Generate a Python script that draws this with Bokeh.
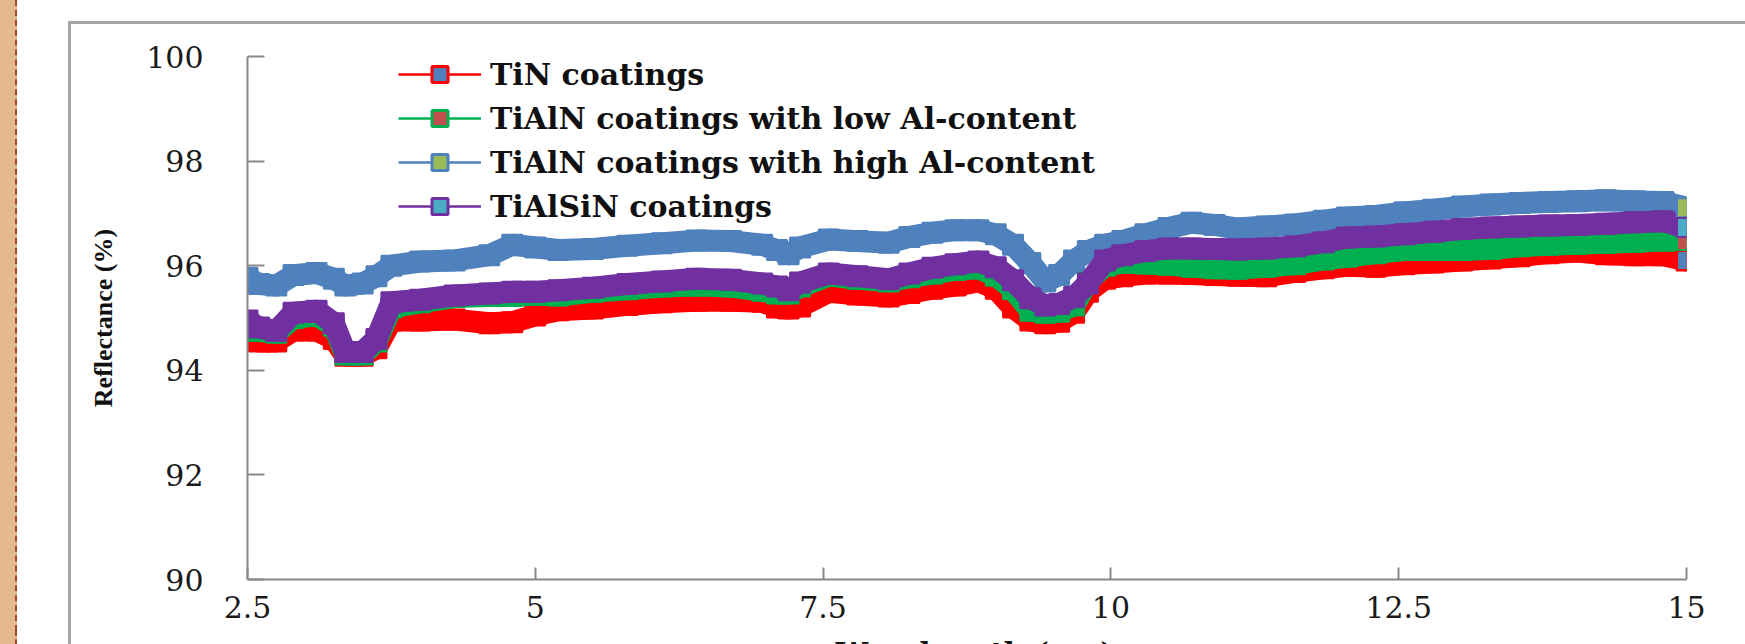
from bokeh.plotting import figure
from bokeh.layouts import column
from bokeh.models import (ColumnDataSource, Legend, LegendItem, InlineStyleSheet,
                          Range1d, FixedTicker, Label)
from bokeh.embed import file_html
from bokeh.resources import INLINE

# ---------------- data ----------------
wavelength = [2.5, 2.6, 2.75, 2.9, 3.1, 3.25, 3.35, 3.5, 3.62, 3.75, 4.0, 4.3, 4.6, 4.8,
              5.0, 5.2, 5.5, 5.8, 6.1, 6.4, 6.7, 6.97, 7.1, 7.2, 7.3, 7.55, 7.8, 8.07,
              8.25, 8.45, 8.65, 8.85, 9.0, 9.15, 9.3, 9.43, 9.55, 9.68, 9.8, 9.95, 10.1,
              10.3, 10.5, 10.7, 10.9, 11.1, 11.35, 11.6, 11.85, 12.05, 12.3, 12.55, 12.8,
              13.05, 13.3, 13.55, 13.8, 14.05, 14.3, 14.55, 14.8, 15.0]

tin = [94.74, 94.55, 94.55, 94.76, 94.76, 94.6, 94.28, 94.28, 94.42, 94.95, 94.95, 94.97,
       94.9, 94.92, 95.05, 95.15, 95.18, 95.25, 95.3, 95.33, 95.33, 95.31, 95.2, 95.18,
       95.22, 95.5, 95.45, 95.41, 95.48, 95.56, 95.62, 95.7, 95.56, 95.2, 94.95, 94.9,
       94.93, 95.1, 95.5, 95.75, 95.8, 95.85, 95.85, 95.84, 95.82, 95.81, 95.8, 95.88,
       95.95, 96.0, 95.98, 96.03, 96.06, 96.1, 96.14, 96.18, 96.24, 96.27, 96.22, 96.2,
       96.2, 96.1]

tialn_low = [94.9, 94.75, 94.72, 95.0, 95.05, 94.85, 94.3, 94.3, 94.55, 95.2, 95.3, 95.4,
             95.42, 95.42, 95.45, 95.43, 95.5, 95.55, 95.6, 95.62, 95.6, 95.52, 95.47,
             95.47, 95.6, 95.81, 95.75, 95.7, 95.78, 95.85, 95.92, 95.95, 95.81, 95.55,
             95.14, 95.1, 95.12, 95.24, 95.7, 96.0, 96.06, 96.04, 96.02, 95.98, 95.95, 95.94,
             95.98, 96.03, 96.12, 96.17, 96.24, 96.3, 96.3, 96.3, 96.32, 96.37, 96.4,
             96.42, 96.44, 96.46, 96.48, 96.48]

tialn_high = [95.77, 95.65, 95.62, 95.82, 95.86, 95.75, 95.62, 95.66, 95.8, 96.0, 96.08,
              96.1, 96.2, 96.4, 96.35, 96.3, 96.32, 96.38, 96.43, 96.48, 96.47, 96.4, 96.3,
              96.22, 96.35, 96.5, 96.47, 96.44, 96.55, 96.63, 96.68, 96.68, 96.6, 96.4,
              96.05, 95.7, 95.82, 96.1, 96.28, 96.4, 96.47, 96.6, 96.72, 96.82, 96.78, 96.71,
              96.75, 96.79, 96.86, 96.92, 96.95, 97.02, 97.07, 97.13, 97.17, 97.2, 97.22,
              97.23, 97.25, 97.23, 97.22, 97.11]

tialsin = [94.95, 94.82, 94.75, 95.1, 95.14, 94.9, 94.35, 94.35, 94.6, 95.3, 95.35, 95.43,
           95.47, 95.5, 95.5, 95.53, 95.58, 95.65, 95.7, 95.75, 95.73, 95.66, 95.6, 95.53,
           95.68, 95.85, 95.8, 95.74, 95.85, 95.96, 96.03, 96.08, 95.97, 95.72, 95.38, 95.24,
           95.27, 95.4, 95.66, 96.1, 96.2, 96.28, 96.33, 96.33, 96.32, 96.31, 96.33, 96.37,
           96.45, 96.54, 96.56, 96.6, 96.65, 96.7, 96.73, 96.75, 96.77, 96.78, 96.8, 96.83,
           96.85, 96.73]

series_names = ["TiN coatings", "TiAlN coatings with low Al-content",
                "TiAlN coatings with high Al-content", "TiAlSiN coatings"]
series_values = [tin, tialn_low, tialn_high, tialsin]
line_colors = ["#FF0000", "#00B050", "#4F81BD", "#7030A0"]
marker_fills = ["#4F81BD", "#C0504D", "#9BBB59", "#4BACC6"]

x_ticks = [2.5, 5, 7.5, 10, 12.5, 15]
x_tick_labels = ["2.5", "5", "7.5", "10", "12.5", "15"]
y_ticks = [90, 92, 94, 96, 98, 100]
y_tick_labels = ["90", "92", "94", "96", "98", "100"]
x_title = "Wavelength (um)"

W = 1745
H_MAIN = 631     # main chart
H_STRIP = 13     # strip below it that shows the top of the (cut) x-axis title

# ---------------- main figure ----------------
p = figure(width=W, height=H_MAIN, x_range=Range1d(2.5, 15), y_range=Range1d(90, 100),
           output_backend="svg", toolbar_location=None,
           min_border_left=247, min_border_right=59, min_border_top=56,
           min_border_bottom=H_MAIN - 579)
p.background_fill_color = "white"
p.border_fill_color = "white"
p.outline_line_color = None
p.grid.visible = False

# decorative page elements: outer chart border and the tan strip at the left edge
p.stylesheets = [InlineStyleSheet(css="""
:host::before {
  content: ""; position: absolute; left: 68px; top: 21px; right: 0; bottom: 0;
  border-left: 3px solid #A6A6A6; border-top: 3px solid #A6A6A6;
  z-index: 20; pointer-events: none; box-sizing: border-box;
}
:host::after {
  content: ""; position: absolute; left: 0; top: 0; width: 17px; bottom: 0;
  background: #E4BA8D; border-right: 2px dashed #A8442F;
  z-index: 20; pointer-events: none; box-sizing: border-box;
}
""")]

# bands (dense markers joined by a thick line)
for vals, c in zip(series_values, line_colors):
    src = ColumnDataSource(dict(x=wavelength, y=vals))
    p.line("x", "y", source=src, line_color=c, line_width=22, line_join="round",
           line_cap="round")
    p.scatter("x", "y", source=src, marker="square", size=20, fill_color=c,
              line_color=c, line_width=2)

# last markers showing the fill colours
for vals, c, f in zip(series_values, line_colors, marker_fills):
    p.scatter(x=wavelength[-1:], y=vals[-1:], marker="square", size=19,
              fill_color=f, line_color=c, line_width=2)

# legend (renderers with NaN points, only used for the legend glyphs)
nan = float("nan")
items = []
for name, c, f in zip(series_names, line_colors, marker_fills):
    r1 = p.line(x=[nan, nan], y=[nan, nan], line_color=c, line_width=2.5)
    r2 = p.scatter(x=[nan], y=[nan], marker="square", fill_color=f, line_color=c,
                   line_width=3)
    items.append(LegendItem(label=name, renderers=[r1, r2]))
legend = Legend(items=items, location=(151, 353), glyph_width=83, glyph_height=40,
                spacing=4, padding=0, margin=0, label_standoff=9,
                label_text_font="DejaVu Serif", label_text_font_size="30px",
                label_text_font_style="bold", label_text_color="#111111",
                background_fill_alpha=0, border_line_alpha=0)
p.add_layout(legend)

# axes
for ax in (p.xaxis, p.yaxis):
    ax.axis_line_color = "#898989"
    ax.axis_line_width = 2
    ax.major_tick_line_color = "#898989"
    ax.major_tick_line_width = 2
    ax.major_tick_out = 0
    ax.minor_tick_line_color = None
    ax.major_label_text_font = "DejaVu Serif"
    ax.major_label_text_font_size = "30px"
    ax.major_label_text_color = "#1a1a1a"

p.xaxis.ticker = FixedTicker(ticks=x_ticks)
p.xaxis.major_label_overrides = dict(zip(x_ticks, x_tick_labels))
p.xaxis.major_tick_in = 12
p.xaxis.major_label_standoff = 16

p.yaxis.ticker = FixedTicker(ticks=y_ticks)
p.yaxis.major_label_overrides = dict(zip(y_ticks, y_tick_labels))
p.yaxis.major_tick_in = 17
p.yaxis.major_label_standoff = 44
p.yaxis.axis_label = "Reflectance (%)"
p.yaxis.axis_label_text_font = "Liberation Serif"
p.yaxis.axis_label_text_font_style = "bold"
p.yaxis.axis_label_text_font_size = "26px"
p.yaxis.axis_label_text_color = "#111111"
p.yaxis.axis_label_standoff = 25

# ---------------- strip with the x-axis title, cut by the page bottom ----------------
p2 = figure(width=W, height=H_STRIP, x_range=Range1d(0, W), y_range=Range1d(0, H_STRIP),
            output_backend="svg", toolbar_location=None,
            x_axis_location=None, y_axis_location=None, min_border=0)
p2.background_fill_color = "white"
p2.border_fill_color = "white"
p2.outline_line_color = None
p2.grid.visible = False
p2.stylesheets = [InlineStyleSheet(css="""
:host::before {
  content: ""; position: absolute; left: 68px; top: 0; width: 3px; bottom: 0;
  background: #A6A6A6; z-index: 20; pointer-events: none;
}
:host::after {
  content: ""; position: absolute; left: 0; top: 0; width: 17px; bottom: 0;
  background: #E4BA8D; border-right: 2px dashed #A8442F;
  z-index: 20; pointer-events: none; box-sizing: border-box;
}
""")]
p2.add_layout(Label(x=882, y=-9, text=x_title, text_align="center",
                    text_baseline="alphabetic", text_font="DejaVu Serif",
                    text_font_style="bold", text_font_size="29px",
                    text_color="#111111"))

page = column(p, p2, spacing=0)

open("out.html", "w").write(file_html(page, INLINE))
